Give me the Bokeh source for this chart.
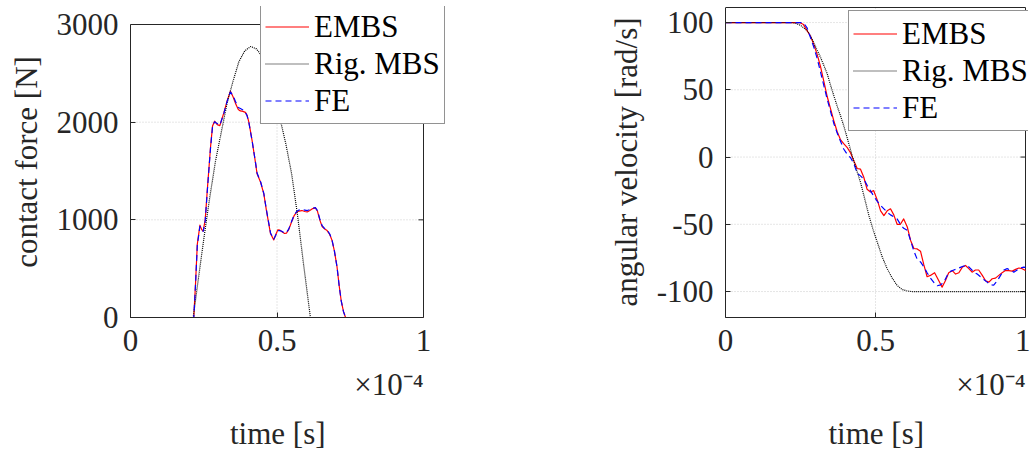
from bokeh.plotting import figure
from bokeh.layouts import row
from bokeh.models import (Range1d, FixedTicker, CustomJSTickFormatter, Legend,
                          LegendItem, Title)
from bokeh.embed import file_html
from bokeh.resources import INLINE

FONT = "Times New Roman, Liberation Serif, serif"

# ---------------- data (time in units of 1e-4 s) ----------------
# contact force [N]
t_force_embs = [0, 0.216, 0.222, 0.228, 0.237, 0.243, 0.248, 0.255, 0.262, 0.273, 0.28, 0.287,
                0.296, 0.305, 0.319, 0.33, 0.341, 0.35, 0.36, 0.368, 0.375, 0.384, 0.392, 0.398,
                0.404, 0.415, 0.427, 0.432, 0.444, 0.455, 0.464, 0.478, 0.489, 0.496, 0.503, 0.51,
                0.518, 0.526, 0.532, 0.54, 0.55, 0.558, 0.567, 0.575, 0.585, 0.595, 0.603, 0.612,
                0.622, 0.631, 0.638, 0.646, 0.654, 0.663, 0.671, 0.68, 0.688, 0.696, 0.705, 0.712,
                0.719, 0.727, 0.734, 1.0]
f_embs = [0, 0, 350, 750, 945, 900, 885, 1000, 1300, 1740, 1960, 2010,
          1975, 1965, 2100, 2221, 2316, 2260, 2180, 2130, 2115, 2110, 2100, 2070,
          2000, 1812, 1576, 1471, 1385, 1266, 1095, 857, 795, 850, 898, 895,
          875, 860, 863, 900, 980, 1040, 1078, 1090, 1095, 1085, 1080, 1095,
          1115, 1123, 1090, 1000, 932, 905, 890, 850, 788, 680, 515, 330,
          174, 60, 0, 0]
f_fe = [0, 0, 340, 740, 935, 905, 880, 990, 1290, 1730, 1955, 2005,
        1985, 1970, 2095, 2215, 2310, 2270, 2200, 2150, 2140, 2125, 2100, 2065,
        1995, 1810, 1580, 1480, 1390, 1270, 1100, 865, 800, 845, 890, 890,
        880, 865, 870, 905, 985, 1045, 1085, 1100, 1105, 1100, 1095, 1105,
        1120, 1125, 1095, 1010, 940, 910, 895, 855, 790, 680, 515, 330,
        174, 60, 0, 0]
t_force_rig = [0, 0.214, 0.23, 0.25, 0.27, 0.29, 0.31, 0.33, 0.35, 0.37, 0.39, 0.41, 0.43,
               0.45, 0.47, 0.49, 0.51, 0.53, 0.55, 0.57, 0.59, 0.614, 1.0]
f_rig = [0, 0, 360, 800, 1220, 1600, 1900, 2200, 2420, 2620, 2730, 2775, 2750,
         2670, 2480, 2230, 2040, 1780, 1470, 1050, 560, 0, 0]

# angular velocity [rad/s]
t_vel_embs = [0, 0.247, 0.26, 0.272, 0.283, 0.294, 0.306, 0.317, 0.328, 0.339, 0.35, 0.361,
              0.372, 0.383, 0.394, 0.406, 0.417, 0.428, 0.439, 0.45, 0.461, 0.472, 0.483,
              0.494, 0.506, 0.517, 0.528, 0.539, 0.55, 0.561, 0.572, 0.583, 0.594, 0.606,
              0.617, 0.628, 0.639, 0.65, 0.661, 0.672, 0.683, 0.697, 0.711, 0.722, 0.733,
              0.744, 0.756, 0.767, 0.778, 0.789, 0.8, 0.811, 0.822, 0.833, 0.844, 0.856,
              0.867, 0.878, 0.889, 0.9, 0.911, 0.922, 0.933, 0.944, 0.956, 0.967, 0.978,
              0.989, 1.0]
w_embs = [100, 100, 98.5, 94, 90, 84, 76, 67, 56, 45, 36, 27,
          19, 13, 10, 7, 3, -3, -8.5, -9, -15, -24, -26,
          -25, -32, -40, -43.5, -40, -38.5, -43, -50, -50, -46, -52,
          -62, -68, -68.3, -70, -80, -89, -88, -86, -92, -96.7, -92,
          -86, -84.5, -87, -86, -82, -80.6, -83, -85.6, -84, -84, -88,
          -92, -93, -90.5, -90, -88, -86, -84.4, -84.5, -84.8, -83.5, -82.5,
          -83, -84.4]
t_vel_fe = [0, 0.255, 0.261, 0.272, 0.283, 0.294, 0.306, 0.317, 0.328, 0.339, 0.35, 0.361,
            0.372, 0.383, 0.394, 0.406, 0.417, 0.428, 0.439, 0.45, 0.461, 0.472, 0.483,
            0.494, 0.506, 0.517, 0.528, 0.539, 0.55, 0.561, 0.572, 0.583, 0.594, 0.606,
            0.617, 0.628, 0.639, 0.65, 0.661, 0.672, 0.683, 0.697, 0.706, 0.717, 0.728,
            0.739, 0.75, 0.761, 0.772, 0.783, 0.794, 0.806, 0.817, 0.828, 0.839, 0.85,
            0.861, 0.872, 0.883, 0.894, 0.906, 0.917, 0.928, 0.939, 0.95, 0.961, 0.972,
            0.983, 0.994, 1.0]
w_fe = [100, 100, 99.5, 96, 89, 82, 73, 63, 53, 43, 34, 25,
        18, 12, 6, 2, -0.5, -5, -12, -14, -16.5, -21, -25,
        -29, -33, -36, -38.5, -41, -43, -44.5, -46, -50, -53, -54.5,
        -62, -70, -76, -78, -81.6, -86, -90, -94, -95.7, -95, -93,
        -88, -85, -84, -83, -82, -81, -80.6, -83, -85.6, -87, -89,
        -91, -93, -95, -95.3, -92, -88, -84, -83, -84, -85.6, -84,
        -82.5, -81.9, -82]
t_vel_rig = [0, 0.22, 0.233, 0.25, 0.272, 0.283, 0.306, 0.317, 0.328, 0.339, 0.35, 0.361,
             0.372, 0.383, 0.394, 0.406, 0.422, 0.436, 0.45, 0.464, 0.478, 0.492, 0.506,
             0.522, 0.539, 0.556, 0.572, 0.589, 0.606, 0.62, 1.0]
w_rig = [100, 100, 99.5, 98, 94, 90.3, 79.2, 74, 68, 62, 53.5, 45.7,
         38, 31, 23.4, 14, 1.1, -9, -18.7, -31, -43.5, -54, -63.3,
         -74, -83.1, -90, -95.5, -98.5, -99.6, -100, -100]

x_ticks = [0, 0.5, 1]
x_lim = [0, 1]
force_ticks = [0, 1000, 2000, 3000]
force_lim = [0, 3000]
vel_ticks = [-100, -50, 0, 50, 100]
vel_lim = [-119.3, 111.2]
series_names = ["EMBS", "Rig. MBS", "FE"]
x_label = "time [s]"
x_scale_label = "×10⁻⁴"

H = 455
FRAME_TOP = 6
FRAME_BOTTOM = 317
AX = "#262626"


def make_panel(width, left, box_w, extra_w, box_h, ylim, yticks, ylabel, legend_loc,
               xs, ys):
    frame_w = box_w + extra_w
    frame_h = FRAME_BOTTOM - FRAME_TOP
    right = width - left - frame_w
    x_end = x_lim[0] + (x_lim[1] - x_lim[0]) * frame_w / box_w
    y_end = ylim[0] + (ylim[1] - ylim[0]) * frame_h / box_h
    p = figure(width=width, height=H, output_backend="svg", toolbar_location=None,
               x_range=Range1d(x_lim[0], x_end), y_range=Range1d(ylim[0], y_end),
               min_border_left=left, min_border_right=right,
               min_border_top=FRAME_TOP, min_border_bottom=H - FRAME_BOTTOM,
               background_fill_color="white", border_fill_color="white")
    p.outline_line_color = None
    p.grid.grid_line_color = None
    fmt = CustomJSTickFormatter(code="return String(tick)")
    p.xaxis.ticker = FixedTicker(ticks=x_ticks)
    p.yaxis.ticker = FixedTicker(ticks=yticks)
    p.xaxis.formatter = fmt
    p.yaxis.formatter = fmt
    p.xaxis.bounds = tuple(x_lim)
    p.yaxis.bounds = tuple(ylim)
    for ax in (p.xaxis[0], p.yaxis[0]):
        ax.axis_line_color = AX
        ax.major_tick_line_color = AX
        ax.major_tick_in = 5
        ax.major_tick_out = 0
        ax.minor_tick_line_color = None
        ax.major_label_text_font = FONT
        ax.major_label_text_font_size = "31px"
        ax.major_label_text_color = AX
        ax.axis_label_text_font = FONT
        ax.axis_label_text_font_size = "31px"
        ax.axis_label_text_font_style = "normal"
        ax.axis_label_text_color = AX
    p.yaxis.axis_label = ylabel
    p.xaxis.major_label_standoff = 12
    p.yaxis.major_label_standoff = 12
    p.yaxis.axis_label_standoff = 10

    # dotted grid limited to the axes box
    gx0 = [t for t in x_ticks if x_lim[0] < t < x_lim[1]]
    gy0 = [t for t in yticks if ylim[0] < t < ylim[1]]
    p.segment(x0=gx0, x1=gx0, y0=[ylim[0]] * len(gx0), y1=[ylim[1]] * len(gx0),
              line_color="#cccccc", line_width=1, line_dash="1 2")
    p.segment(x0=[x_lim[0]] * len(gy0), x1=[x_lim[1]] * len(gy0), y0=gy0, y1=gy0,
              line_color="#cccccc", line_width=1, line_dash="1 2")
    # box: top and right edges, plus inward ticks on the right edge
    p.line([x_lim[0], x_lim[1], x_lim[1]], [ylim[1], ylim[1], ylim[0]],
           line_color=AX, line_width=1)
    tick_len = 5 * (x_lim[1] - x_lim[0]) / box_w
    p.segment(x0=[x_lim[1] - tick_len] * len(gy0), x1=[x_lim[1]] * len(gy0),
              y0=gy0, y1=gy0, line_color=AX, line_width=1)

    r1 = p.line(xs[0], ys[0], line_color="#ff0000", line_width=1.2, line_join="round")
    r2 = p.line(xs[1], ys[1], line_color="#000000", line_width=1.2, line_dash="1 1")
    r3 = p.line(xs[2], ys[2], line_color="#0000ff", line_width=1.2, line_dash="6 4")

    leg = Legend(items=[LegendItem(label=series_names[0], renderers=[r1]),
                        LegendItem(label=series_names[1], renderers=[r2]),
                        LegendItem(label=series_names[2], renderers=[r3])],
                 location=legend_loc)
    leg.border_line_color = AX
    leg.border_line_width = 1
    leg.background_fill_color = "white"
    leg.background_fill_alpha = 1
    leg.label_text_font = FONT
    leg.label_text_font_size = "31px"
    leg.label_text_color = "#000000"
    leg.glyph_width = 44
    leg.glyph_height = 37
    leg.label_height = 37
    leg.label_standoff = 5
    leg.spacing = 0
    leg.padding = 4
    leg.margin = 0
    p.add_layout(leg)

    t1 = Title(text=x_scale_label, align="right", offset=extra_w, standoff=23,
               text_font=FONT, text_font_size="31px", text_font_style="normal",
               text_color=AX, text_line_height=1.0)
    t2 = Title(text=x_label, align="left", offset=box_w / 2 - 47, standoff=0,
               text_font=FONT, text_font_size="31px", text_font_style="normal",
               text_color=AX, text_line_height=1.0)
    p.add_layout(t1, "below")
    p.add_layout(t2, "below")
    return p


W1 = 560
W2 = 470
p1 = make_panel(W1, 130, 293, 25, 293, force_lim, force_ticks, "contact force [N]",
                (130, 193),
                [t_force_embs, t_force_rig, t_force_embs], [f_embs, f_rig, f_fe])
p2 = make_panel(W2, 725 - W1, 300, 3, 310, vel_lim, vel_ticks, "angular velocity [rad/s]",
                (123, 186),
                [t_vel_embs, t_vel_rig, t_vel_fe], [w_embs, w_rig, w_fe])

layout = row(p1, p2)
open("out.html", "w").write(file_html(layout, INLINE))
